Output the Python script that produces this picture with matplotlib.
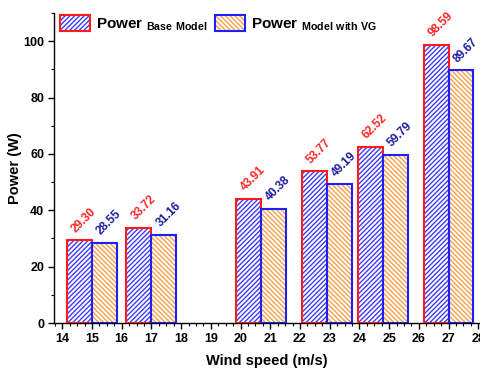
import matplotlib
matplotlib.use("Agg")
import matplotlib.pyplot as plt
from matplotlib.patches import Patch
from matplotlib.legend_handler import HandlerTuple
from matplotlib.ticker import MultipleLocator

plt.rcParams['font.family'] = ['Liberation Sans', 'DejaVu Sans']
plt.rcParams['font.weight'] = 'bold'
plt.rcParams['mathtext.fontset'] = 'custom'
plt.rcParams['mathtext.rm'] = 'Liberation Sans:bold'
plt.rcParams['mathtext.bf'] = 'Liberation Sans:bold'
plt.rcParams['hatch.linewidth'] = 1.0

# Wind speed group positions and power output
wind_speed = [15.0, 17.0, 20.7, 22.9, 24.8, 27.0]
power_base = [29.30, 33.72, 43.91, 53.77, 62.52, 98.59]
power_vg = [28.55, 31.16, 40.38, 49.19, 59.79, 89.67]

bar_w = 0.84
base_hatch, base_edge, base_text = '#3c3cff', '#ff1a1a', '#ff2424'
vg_hatch, vg_edge, vg_text = '#f5a048', '#1e1eff', '#1c1ca0'
hatch_base = '///////'
hatch_vg = '\\' * 7

fig = plt.figure(figsize=(4.81, 3.71), dpi=100)
ax = fig.add_axes([54 / 481, 1 - 323 / 371, (480 - 54) / 481, (323 - 13) / 371])

x_base = [x - bar_w / 2 for x in wind_speed]
x_vg = [x + bar_w / 2 for x in wind_speed]


def hatched_bars(xs, vals, hatch_color, edge_color, hatch):
    ax.bar(xs, vals, bar_w, facecolor='white', edgecolor=hatch_color,
           hatch=hatch, linewidth=0, zorder=2)
    ax.bar(xs, vals, bar_w, fill=False, edgecolor=edge_color,
           linewidth=1.5, zorder=3)


hatched_bars(x_base, power_base, base_hatch, base_edge, hatch_base)
hatched_bars(x_vg, power_vg, vg_hatch, vg_edge, hatch_vg)

for xs, vals, col in ((x_base, power_base, base_text), (x_vg, power_vg, vg_text)):
    for x, v in zip(xs, vals):
        ax.text(x - 0.05, v + 2.0, f"{v:.2f}", rotation=45, rotation_mode='anchor',
                ha='left', va='bottom', color=col, fontsize=8.5, fontweight='bold')

ax.set_xlim(13.72, 28.06)
ax.set_ylim(0, 110)
ax.xaxis.set_major_locator(MultipleLocator(1))
ax.xaxis.set_minor_locator(MultipleLocator(0.25))
ax.yaxis.set_major_locator(MultipleLocator(20))
ax.yaxis.set_minor_locator(MultipleLocator(10))
ax.tick_params(which='major', direction='out', length=4, width=1, labelsize=9, pad=3)
ax.tick_params(which='minor', direction='out', length=2.5, width=0.8)
for s in ('top', 'right'):
    ax.spines[s].set_visible(False)
for s in ('left', 'bottom'):
    ax.spines[s].set_linewidth(1.0)

ax.set_xlabel('Wind speed (m/s)', fontsize=10.5, fontweight='bold', labelpad=7)
ax.set_ylabel('Power (W)', fontsize=10.5, fontweight='bold', labelpad=1)

h_base = (Patch(facecolor='white', edgecolor=base_hatch, hatch=hatch_base, linewidth=0),
          Patch(fill=False, edgecolor=base_edge, linewidth=1.5))
h_vg = (Patch(facecolor='white', edgecolor=vg_hatch, hatch=hatch_vg, linewidth=0),
        Patch(fill=False, edgecolor=vg_edge, linewidth=1.5))
ax.legend([h_base, h_vg],
          [r'Power $_{\mathbf{Base\ Model}}$', r'Power $_{\mathbf{Model\ with\ VG}}$'],
          handler_map={tuple: HandlerTuple(ndivide=1)},
          loc='upper left', bbox_to_anchor=(0.01, 1.0), ncol=2, frameon=False,
          prop={'size': 11, 'weight': 'bold'}, handlelength=2.0, handleheight=1.3,
          handletextpad=0.35, columnspacing=0.5, borderaxespad=0.0, borderpad=0.1)

fig.savefig('out.png', dpi=100)
